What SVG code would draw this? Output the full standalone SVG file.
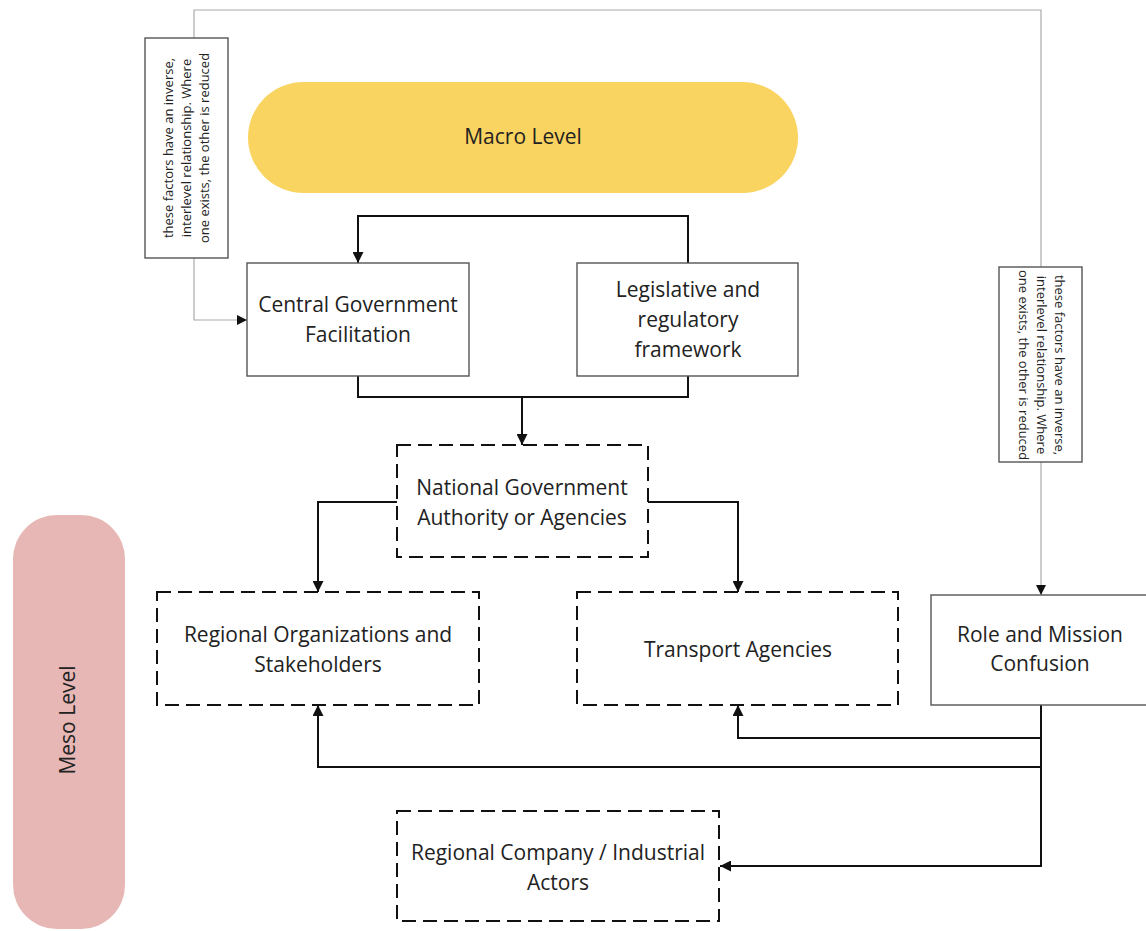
<svg xmlns="http://www.w3.org/2000/svg" width="1146" height="931" viewBox="0 0 1146 931">
<style>
.t{font-family:"Open Sans","Liberation Sans",sans-serif;font-size:21px;fill:#222;text-anchor:middle}
.n{font-family:"Open Sans","Liberation Sans",sans-serif;font-size:13px;fill:#222;text-anchor:middle}
.box{fill:#fff;stroke:#555;stroke-width:1.4}
.dash{fill:#fff;stroke:#111;stroke-width:2;stroke-dasharray:14 7}
.c{fill:none;stroke:#111;stroke-width:2}
.g{fill:none;stroke:#aaa;stroke-width:1.2}
</style>
<defs>
<marker id="ah" viewBox="0 0 10 10" refX="10" refY="5" markerWidth="11" markerHeight="11" markerUnits="userSpaceOnUse" orient="auto"><path d="M0,0 L10,5 L0,10 z" fill="#111"/></marker>
<marker id="ahs" viewBox="0 0 10 10" refX="10" refY="5" markerWidth="10" markerHeight="10" markerUnits="userSpaceOnUse" orient="auto"><path d="M0,0 L10,5 L0,10 z" fill="#111"/></marker>
</defs>
<rect width="1146" height="931" fill="#fff"/>
<g id="connectors">
<path class="g" d="M194,38 V10 H1041 V267"/>
<path class="g" d="M1041,462 V595" marker-end="url(#ahs)"/>
<path class="g" d="M194,258 V320 H247" marker-end="url(#ahs)"/>
<path class="c" d="M688,263 V216 H358 V263" marker-end="url(#ah)"/>
<path class="c" d="M358,376 V397 H688 V376"/>
<path class="c" d="M522,397 V445" marker-end="url(#ah)"/>
<path class="c" d="M397,502 H318 V592" marker-end="url(#ah)"/>
<path class="c" d="M648,502 H738 V592" marker-end="url(#ah)"/>
<path class="c" d="M1041,705 V866 H720" marker-end="url(#ah)"/>
<path class="c" d="M1041,738 H738 V705" marker-end="url(#ah)"/>
<path class="c" d="M1041,767 H318 V705" marker-end="url(#ah)"/>
</g>
<g id="macro">
<rect x="248" y="82" width="550" height="111" rx="55.5" fill="#FAD460"/>
<text class="t" x="523" y="144">Macro Level</text>
</g>
<g id="meso">
<rect x="13" y="515" width="112" height="414" rx="44" fill="#E6B7B5"/>
<text class="t" transform="translate(68,720) rotate(-90)" x="0" y="7">Meso Level</text>
</g>
<g id="note-left">
<rect class="box" x="145" y="38" width="83" height="220"/>
<text class="n" transform="translate(186,148) rotate(-90)"><tspan x="0" y="-13.5">these factors have an inverse,</tspan><tspan x="0" y="4.5">interlevel relationship. Where</tspan><tspan x="0" y="22.5">one exists, the other is reduced</tspan></text>
</g>
<g id="note-right">
<rect class="box" x="999" y="267" width="83" height="195"/>
<text class="n" transform="translate(1041,365) rotate(90)"><tspan x="0" y="-13.5">these factors have an inverse,</tspan><tspan x="0" y="4.5">interlevel relationship. Where</tspan><tspan x="0" y="22.5">one exists, the other is reduced</tspan></text>
</g>
<g id="central">
<rect class="box" x="247" y="263" width="222" height="113"/>
<text class="t"><tspan x="358" y="312">Central Government</tspan><tspan x="358" y="342">Facilitation</tspan></text>
</g>
<g id="legislative">
<rect class="box" x="577" y="263" width="221" height="113"/>
<text class="t"><tspan x="688" y="297">Legislative and</tspan><tspan x="688" y="327">regulatory</tspan><tspan x="688" y="357">framework</tspan></text>
</g>
<g id="national">
<rect class="dash" x="397" y="445" width="251" height="112"/>
<text class="t"><tspan x="522" y="495">National Government</tspan><tspan x="522" y="525">Authority or Agencies</tspan></text>
</g>
<g id="regional-org">
<rect class="dash" x="157" y="592" width="322" height="113"/>
<text class="t"><tspan x="318" y="642">Regional Organizations and</tspan><tspan x="318" y="672">Stakeholders</tspan></text>
</g>
<g id="transport">
<rect class="dash" x="577" y="592" width="321" height="113"/>
<text class="t" x="738" y="657">Transport Agencies</text>
</g>
<g id="role">
<rect class="box" x="931" y="595" width="220" height="110"/>
<text class="t"><tspan x="1040" y="642">Role and Mission</tspan><tspan x="1040" y="671">Confusion</tspan></text>
</g>
<g id="regional-company">
<rect class="dash" x="397" y="811" width="322" height="110"/>
<text class="t"><tspan x="558" y="860">Regional Company / Industrial</tspan><tspan x="558" y="890">Actors</tspan></text>
</g>
</svg>
